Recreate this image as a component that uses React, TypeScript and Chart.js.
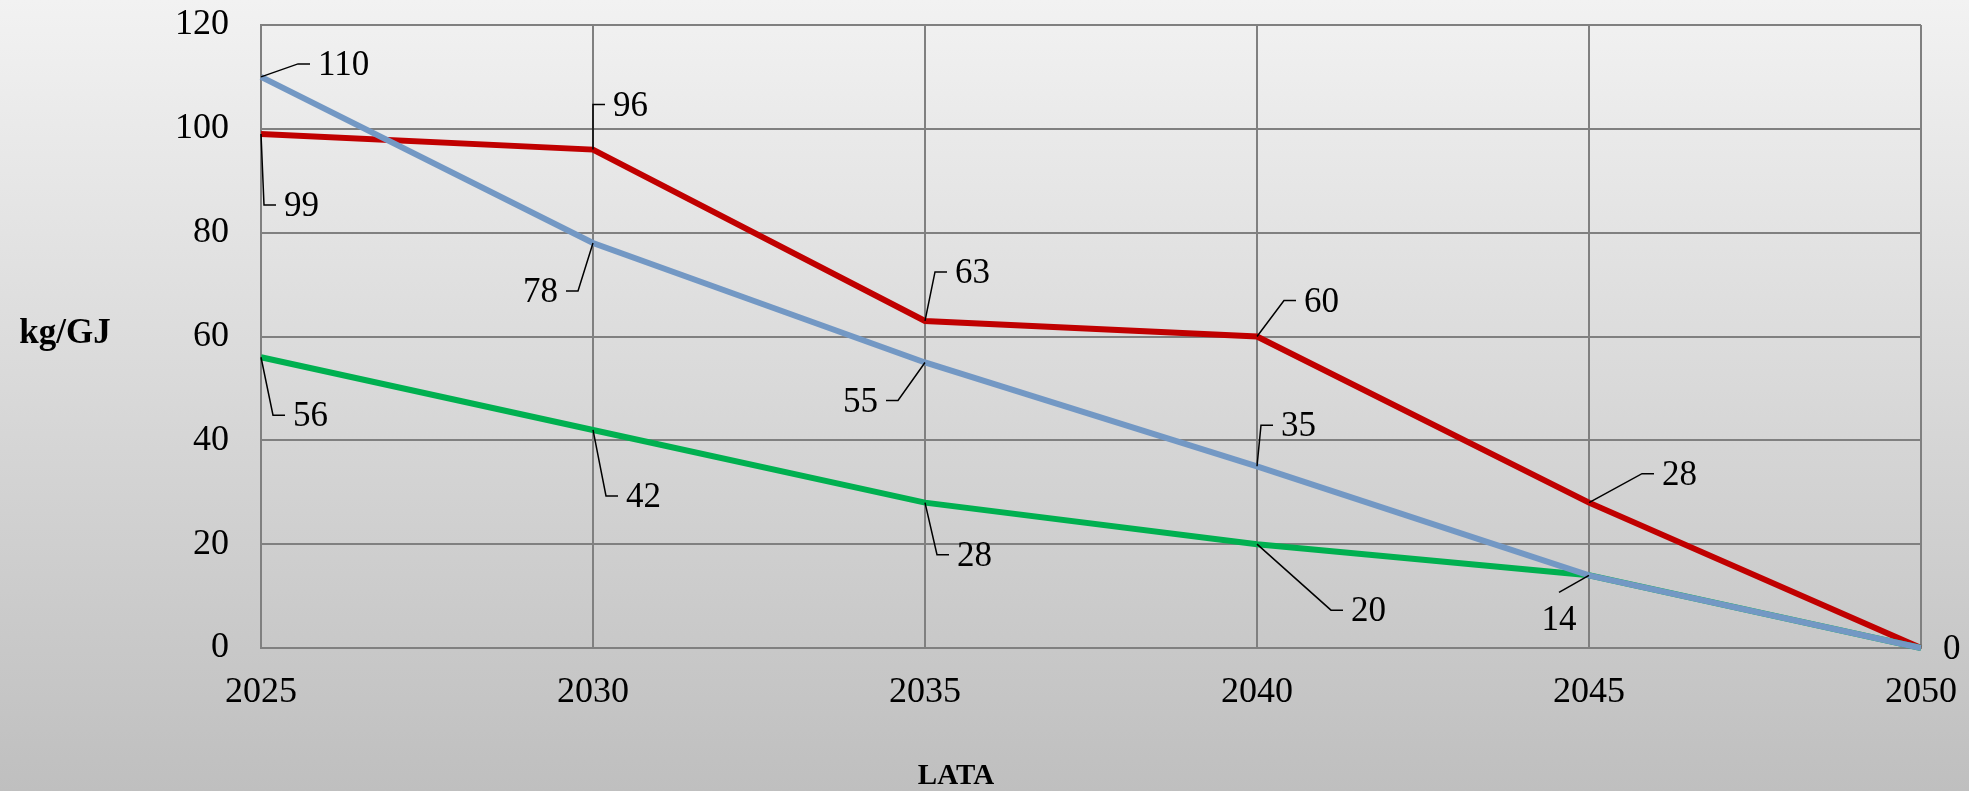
import React, { useEffect, useRef } from "react";
import { Chart, registerables } from "chart.js";

Chart.register(...registerables);

// ---- data ----
const years = ["2025", "2030", "2035", "2040", "2045", "2050"];
const redValues = [99, 96, 63, 60, 28, 0];
const blueValues = [110, 78, 55, 35, 14, 0];
const greenValues = [56, 42, 28, 20, 14, 0];
const yTicks = [0, 20, 40, 60, 80, 100, 120];
const yTitle = "kg/GJ";
const xTitle = "LATA";

// ---- label placement (pixel offsets from the point; style only) ----
type Place = [number, number, "left" | "right" | "center" | "none"] | null;
const redPlace: Place[] = [
  [23, 73, "left"],
  [20, -43, "left"],
  [30, -47, "left"],
  [47, -34, "left"],
  [73, -27, "left"],
  [22, 2, "none"],
];
const bluePlace: Place[] = [
  [57, -11, "left"],
  [-35, 50, "right"],
  [-47, 40, "right"],
  [24, -39, "left"],
  [-30, 45, "center"],
  null,
];
const greenPlace: Place[] = [
  [32, 60, "left"],
  [33, 68, "left"],
  [32, 54, "left"],
  [94, 68, "left"],
  null,
  null,
];

const FONT = "'Liberation Serif', 'Times New Roman', serif";

const labelPlugin = {
  id: "leaderLabels",
  afterDatasetsDraw(chart: any) {
    const ctx = chart.ctx;
    const places = [redPlace, greenPlace, bluePlace];
    ctx.save();
    ctx.font = `35px ${FONT}`;
    ctx.fillStyle = "#000";
    ctx.strokeStyle = "#000";
    ctx.lineWidth = 1.5;
    ctx.textBaseline = "middle";
    chart.data.datasets.forEach((ds: any, di: number) => {
      const meta = chart.getDatasetMeta(di);
      const pl = places[di];
      meta.data.forEach((pt: any, i: number) => {
        const p = pl[i];
        if (!p) return;
        const [dx, dy, side] = p;
        const tx = pt.x + dx;
        const cy = pt.y + dy;
        const text = String(ds.data[i]);
        const ly = cy - 2;
        if (side === "left") {
          const hx2 = tx - 8;
          const hx1 = hx2 - 12;
          ctx.beginPath();
          ctx.moveTo(pt.x, pt.y);
          ctx.lineTo(hx1, ly);
          ctx.lineTo(hx2, ly);
          ctx.stroke();
          ctx.textAlign = "left";
        } else if (side === "right") {
          const hx2 = tx + 8;
          const hx1 = hx2 + 12;
          ctx.beginPath();
          ctx.moveTo(pt.x, pt.y);
          ctx.lineTo(hx1, ly);
          ctx.lineTo(hx2, ly);
          ctx.stroke();
          ctx.textAlign = "right";
        } else if (side === "center") {
          ctx.beginPath();
          ctx.moveTo(pt.x, pt.y);
          ctx.lineTo(tx, cy - 28);
          ctx.stroke();
          ctx.textAlign = "center";
        } else {
          ctx.textAlign = "left";
        }
        ctx.fillText(text, tx, cy);
      });
    });
    // axis titles
    ctx.font = `bold 35px ${FONT}`;
    ctx.textAlign = "center";
    ctx.fillText(yTitle, 65, 334);
    ctx.font = `bold 29px ${FONT}`;
    ctx.fillText(xTitle, 956, 777);
    ctx.restore();
  },
};

function zeroPadding(scale: any) {
  scale.paddingTop = 0;
  scale.paddingBottom = 0;
  scale.paddingLeft = 0;
  scale.paddingRight = 0;
}

export default function App() {
  const ref = useRef<HTMLCanvasElement | null>(null);

  useEffect(() => {
    document.body.style.margin = "0";
    document.body.style.overflow = "hidden";
    if (!ref.current) return;
    const chart = new Chart(ref.current, {
      type: "line",
      data: {
        labels: years,
        datasets: [
          {
            label: "A",
            data: redValues,
            borderColor: "#c00000",
            borderWidth: 6,
            pointRadius: 0,
            tension: 0,
            order: 2,
            clip: false as any,
          },
          {
            label: "C",
            data: greenValues,
            borderColor: "#00b050",
            borderWidth: 6,
            pointRadius: 0,
            tension: 0,
            order: 1,
            clip: false as any,
          },
          {
            label: "B",
            data: blueValues,
            borderColor: "#7398c4",
            borderWidth: 6,
            pointRadius: 0,
            tension: 0,
            order: 0,
            clip: false as any,
          },
        ],
      },
      options: {
        responsive: false,
        animation: false,
        devicePixelRatio: 1,
        layout: { padding: { left: 0, top: 25, right: 48, bottom: 0 } },
        plugins: {
          legend: { display: false },
          tooltip: { enabled: false },
        },
        scales: {
          x: {
            type: "category",
            grid: { color: "#808080", lineWidth: 2, drawTicks: false },
            border: { color: "#808080", width: 2 },
            ticks: {
              color: "#000",
              padding: 23,
              maxRotation: 0,
              font: { family: FONT, size: 36 },
            },
            afterFit(scale: any) {
              scale.height = 143;
              zeroPadding(scale);
            },
          },
          y: {
            min: 0,
            max: 120,
            afterBuildTicks(scale: any) {
              scale.ticks = yTicks.map((v) => ({ value: v }));
            },
            grid: { color: "#808080", lineWidth: 2, drawTicks: false },
            border: { color: "#808080", width: 2 },
            ticks: {
              color: "#000",
              padding: 32,
              font: { family: FONT, size: 36 },
            },
            afterFit(scale: any) {
              scale.width = 261;
              zeroPadding(scale);
            },
          },
        },
      },
      plugins: [labelPlugin],
    });
    return () => chart.destroy();
  }, []);

  return (
    <div
      style={{
        width: 1969,
        height: 791,
        background: "linear-gradient(to bottom, #f2f2f2 0%, #bfbfbf 100%)",
      }}
    >
      <canvas ref={ref} width={1969} height={791} style={{ display: "block" }} />
    </div>
  );
}
